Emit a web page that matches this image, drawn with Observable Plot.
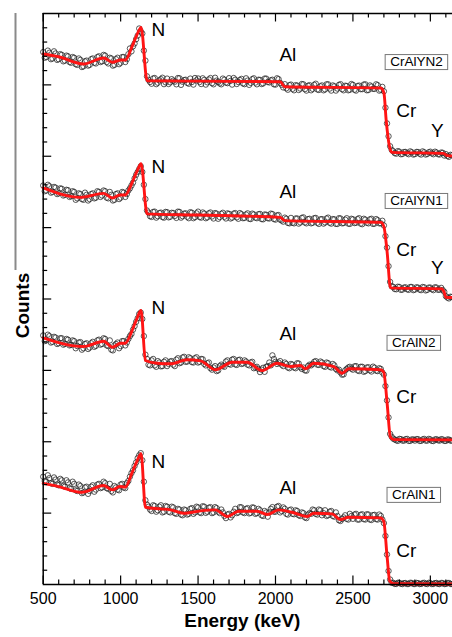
<!DOCTYPE html>
<html>
<head>
<meta charset="utf-8">
<script src="https://cdn.jsdelivr.net/npm/d3@7"></script>
<script src="https://cdn.jsdelivr.net/npm/@observablehq/plot@0.6"></script>
<style>
  html, body { margin: 0; padding: 0; background: #fff; }
  #chart { width: 452px; height: 637px; }
</style>
</head>
<body>
<div id="chart"></div>
<script>
// ---- channel energies (keV), two interleaved channel sets ----
const energiesA = [
  500,520,540,560,580,600,620,640,660,680,
  700,720,740,760,780,800,820,840,860,880,
  900,920,940,960,980,1000,1020,1040,1060,1080,
  1100,1120,1140,1160,1180,1200,1220,1240,1260,1280,
  1300,1320,1340,1360,1380,1400,1420,1440,1460,1480,
  1500,1520,1540,1560,1580,1600,1620,1640,1660,1680,
  1700,1720,1740,1760,1780,1800,1820,1840,1860,1880,
  1900,1920,1940,1960,1980,2000,2020,2040,2060,2080,
  2100,2120,2140,2160,2180,2200,2220,2240,2260,2280,
  2300,2320,2340,2360,2380,2400,2420,2440,2460,2480,
  2500,2520,2540,2560,2580,2600,2620,2640,2660,2680,
  2700,2720,2740,2760,2780,2800,2820,2840,2860,2880,
  2900,2920,2940,2960,2980,3000,3020,3040,3060,3080,
  3100,3120,3140
];
const energiesB = [
  510,530,550,570,590,610,630,650,670,690,
  710,730,750,770,790,810,830,850,870,890,
  910,930,950,970,990,1010,1030,1050,1070,1090,
  1110,1130,1150,1170,1190,1210,1230,1250,1270,1290,
  1310,1330,1350,1370,1390,1410,1430,1450,1470,1490,
  1510,1530,1550,1570,1590,1610,1630,1650,1670,1690,
  1710,1730,1750,1770,1790,1810,1830,1850,1870,1890,
  1910,1930,1950,1970,1990,2010,2030,2050,2070,2090,
  2110,2130,2150,2170,2190,2210,2230,2250,2270,2290,
  2310,2330,2350,2370,2390,2410,2430,2450,2470,2490,
  2510,2530,2550,2570,2590,2610,2630,2650,2670,2690,
  2710,2730,2750,2770,2790,2810,2830,2850,2870,2890,
  2910,2930,2950,2970,2990,3010,3030,3050,3070,3090,
  3110,3130
];

// ---- measured counts (offset, arbitrary units) ----
const dataCrAlYN2_A = [
  37.30,36.95,37.25,36.85,37.20,36.80,37.10,36.70,37.00,36.55,
  36.90,36.40,36.75,36.30,36.70,36.40,36.85,36.50,37.00,36.65,
  37.05,36.50,36.85,36.40,36.90,36.55,36.95,36.80,37.55,37.70,
  38.20,38.95,38.60,36.70,35.35,35.08,35.48,35.15,35.40,35.05,
  35.44,35.18,35.30,35.04,35.46,35.22,35.36,35.08,35.20,35.48,
  35.45,35.06,35.35,35.18,35.48,35.04,35.30,35.10,35.44,35.16,
  35.47,35.02,35.36,35.20,35.42,35.05,35.30,35.14,35.46,35.04,
  35.35,35.10,35.44,35.17,35.36,35.02,35.40,35.00,35.05,34.66,
  35.02,34.62,34.95,34.74,35.04,34.60,34.98,34.72,35.08,34.64,
  34.96,34.68,35.04,34.60,34.90,34.74,35.05,34.62,34.92,34.66,
  35.00,34.60,34.95,34.70,35.04,34.64,34.88,34.72,34.98,34.66,
  34.55,32.30,30.70,30.35,30.18,30.32,30.16,30.30,30.14,30.28,
  30.15,30.30,30.12,30.28,30.16,30.32,30.14,30.26,30.12,30.24,
  30.15,29.96,30.06
];
const dataCrAlYN2_B = [
  36.90,37.40,36.80,37.35,36.75,37.15,36.65,37.05,36.60,36.95,
  36.45,36.85,36.25,36.65,36.35,36.80,36.55,36.95,36.60,37.10,
  36.60,36.90,36.35,36.80,36.45,36.95,36.60,37.15,37.35,37.90,
  38.45,38.75,37.40,35.60,35.20,35.45,35.05,35.32,35.50,35.18,
  35.06,35.40,35.22,35.48,35.00,35.34,35.14,35.44,35.02,35.32,
  35.20,35.46,35.02,35.38,35.12,35.50,35.20,35.04,35.36,35.12,
  35.28,35.48,35.06,35.34,35.10,35.46,35.00,35.40,35.16,35.36,
  35.06,35.44,35.20,35.32,35.04,35.46,35.14,34.82,34.76,34.98,
  34.72,34.98,34.64,35.06,34.70,34.94,34.62,35.00,34.68,34.90,
  34.62,35.04,34.74,34.96,34.60,35.00,34.70,34.94,34.62,35.06,
  34.66,34.92,34.70,35.02,34.62,34.96,34.72,35.04,34.60,34.86,
  33.40,31.40,30.45,30.22,30.36,30.14,30.30,30.20,30.34,30.12,
  30.30,30.18,30.34,30.12,30.28,30.20,30.32,30.14,30.26,30.05,
  30.02,30.10
];
const dataCrAlYN1_A = [
  27.95,27.60,27.90,27.50,27.80,27.40,27.72,27.30,27.62,27.20,
  27.50,27.05,27.35,26.95,27.30,27.00,27.40,27.10,27.50,27.25,
  27.55,27.05,27.30,26.95,27.40,27.10,27.45,27.35,27.75,28.15,
  28.70,29.10,28.90,27.00,26.05,25.75,26.12,25.80,26.05,25.70,
  26.08,25.76,26.02,25.68,26.10,25.80,26.00,25.66,26.04,25.74,
  26.12,25.70,25.98,25.72,26.06,25.64,25.98,25.74,26.04,25.64,
  25.96,25.70,26.02,25.62,25.94,25.68,26.00,25.60,25.92,25.66,
  25.96,25.58,25.90,25.64,25.95,25.56,25.88,25.50,25.70,25.33,
  25.68,25.30,25.64,25.36,25.72,25.30,25.62,25.34,25.68,25.26,
  25.60,25.36,25.70,25.28,25.58,25.26,25.64,25.32,25.66,25.26,
  25.58,25.34,25.66,25.24,25.56,25.30,25.62,25.28,25.52,25.30,
  25.15,23.60,21.20,20.85,20.68,20.84,20.66,20.82,20.64,20.84,
  20.66,20.80,20.62,20.82,20.64,20.80,20.62,20.80,20.66,20.62,
  20.20,20.04,20.14
];
const dataCrAlYN1_B = [
  27.55,28.00,27.45,27.85,27.35,27.75,27.25,27.65,27.15,27.55,
  26.95,27.40,27.00,27.45,26.90,27.35,27.05,27.55,27.15,27.60,
  27.10,27.50,26.90,27.35,27.00,27.50,27.15,27.60,27.95,28.45,
  28.90,29.30,28.00,26.20,25.80,26.10,25.70,26.02,25.74,26.10,
  25.72,26.04,25.82,26.12,25.70,25.98,25.76,26.08,25.66,26.00,
  25.74,26.06,25.66,26.00,25.78,26.02,25.62,25.96,25.76,26.00,
  25.64,25.98,25.72,26.02,25.66,25.92,25.62,25.98,25.70,25.94,
  25.60,25.92,25.66,25.98,25.60,25.86,25.56,25.42,25.62,25.30,
  25.34,25.64,25.28,25.68,25.36,25.60,25.30,25.66,25.34,25.58,
  25.28,25.64,25.34,25.60,25.26,25.66,25.30,25.56,25.28,25.62,
  25.32,25.60,25.28,25.62,25.34,25.58,25.26,25.60,25.30,25.48,
  24.40,22.30,20.90,20.70,20.86,20.64,20.80,20.68,20.84,20.62,
  20.82,20.66,20.84,20.60,20.80,20.68,20.82,20.64,20.78,20.50,
  20.10,20.16
];
const dataCrAlN2_A = [
  17.45,17.10,17.40,17.00,17.30,16.90,17.25,16.85,17.15,16.78,
  17.05,16.70,16.98,16.55,16.90,16.60,17.00,16.72,17.15,16.85,
  17.20,16.70,16.45,16.75,16.95,16.70,17.05,16.95,17.40,17.85,
  18.40,18.95,18.60,16.10,15.40,15.70,15.35,15.65,15.28,15.60,
  15.30,15.62,15.40,15.75,15.50,15.90,15.60,15.92,15.58,15.85,
  15.55,15.80,15.45,15.50,15.15,15.20,14.95,15.30,15.30,15.62,
  15.45,15.75,15.42,15.72,15.45,15.70,15.40,15.55,15.15,15.25,
  14.88,15.18,15.25,15.55,16.05,15.60,15.55,15.40,15.55,15.20,
  15.45,15.20,15.50,15.22,15.20,14.98,15.40,15.45,15.65,15.38,
  15.55,15.25,15.50,15.20,15.35,15.00,14.85,14.72,15.10,15.25,
  15.05,15.30,14.95,15.25,14.95,15.22,14.92,15.18,14.95,15.10,
  14.70,12.90,10.55,10.22,10.10,10.20,10.08,10.18,10.06,10.16,
  10.08,10.18,10.06,10.20,10.08,10.16,10.05,10.18,10.08,10.16,
  10.06,10.15,10.08
];
const dataCrAlN2_B = [
  17.05,17.50,16.95,17.35,16.85,17.25,16.80,17.20,16.75,17.10,
  16.55,16.95,16.45,16.85,16.50,16.90,16.65,17.10,16.80,17.25,
  16.75,17.10,16.40,16.85,16.55,17.05,16.75,17.20,17.55,18.10,
  18.65,19.05,17.40,15.80,15.35,15.80,15.25,15.55,15.30,15.70,
  15.45,15.65,15.30,15.85,15.55,15.95,15.62,15.85,15.55,15.92,
  15.60,15.78,15.35,15.55,15.05,15.30,15.00,15.40,15.25,15.70,
  15.40,15.80,15.38,15.75,15.48,15.62,15.35,15.60,15.20,15.10,
  15.05,14.90,15.30,15.35,15.80,15.45,15.65,15.30,15.45,15.15,
  15.40,15.15,15.48,15.10,15.00,15.30,15.35,15.60,15.40,15.62,
  15.30,15.55,15.25,15.45,15.10,15.05,14.70,15.00,15.20,15.12,
  15.28,15.00,15.25,14.90,15.20,15.00,15.26,14.98,15.15,14.85,
  13.90,11.70,10.35,10.16,10.06,10.18,10.08,10.20,10.06,10.16,
  10.18,10.06,10.16,10.08,10.20,10.06,10.16,10.10,10.18,10.06,
  10.16,10.08
];
const dataCrAlN1_A = [
  7.55,7.20,7.45,7.05,7.35,6.95,7.30,6.85,7.15,6.70,
  7.05,6.55,6.90,6.45,6.85,6.55,6.95,6.65,7.05,6.80,
  7.10,6.70,6.55,6.90,6.65,7.00,6.80,7.10,7.55,8.00,
  8.55,9.05,8.70,5.90,5.45,5.15,5.50,5.20,5.55,5.10,
  5.45,5.05,5.40,4.95,5.25,4.85,5.20,4.95,5.35,5.05,
  5.40,5.00,5.45,5.10,5.42,5.05,5.35,5.00,5.05,4.65,
  4.95,4.85,5.30,5.05,5.40,5.00,5.35,5.02,5.38,5.00,
  5.20,4.80,5.05,5.05,5.42,5.10,5.50,5.15,5.30,4.90,
  5.25,4.92,5.15,4.80,5.00,4.65,5.00,5.25,4.95,5.25,
  4.85,5.20,4.85,5.15,4.75,4.80,4.45,4.70,4.60,4.95,
  4.60,4.95,4.55,4.92,4.55,4.90,4.52,4.88,4.55,4.80,
  4.30,2.10,0.35,0.12,0.04,0.12,0.03,0.10,0.04,0.11,
  0.03,0.10,0.04,0.12,0.03,0.10,0.04,0.11,0.03,0.10,
  0.04,0.11,0.03
];
const dataCrAlN1_B = [
  7.25,7.65,7.10,7.50,7.00,7.40,6.90,7.30,6.75,7.20,
  6.60,7.00,6.40,6.80,6.35,6.85,6.50,7.00,6.75,7.20,
  6.75,7.05,6.45,6.80,6.60,7.05,6.75,7.25,7.80,8.30,
  8.85,9.20,7.20,5.60,5.25,5.55,5.10,5.45,5.05,5.50,
  5.10,5.45,5.00,5.30,4.90,5.25,4.90,5.30,4.95,5.45,
  5.05,5.48,5.02,5.38,5.00,5.42,5.10,5.25,4.80,4.90,
  4.70,5.10,5.00,5.42,5.05,5.30,4.98,5.40,4.95,5.30,
  4.85,5.15,4.75,5.30,5.10,5.45,5.05,5.40,4.95,5.20,
  4.95,5.20,4.85,5.05,4.70,4.90,4.95,5.20,4.90,5.20,
  5.00,4.80,5.10,4.80,5.05,4.50,4.60,4.85,4.55,4.80,
  4.90,4.55,4.88,4.58,4.92,4.55,4.86,4.58,4.90,4.55,
  3.40,0.95,0.12,0.04,0.12,0.05,0.10,0.03,0.12,0.04,
  0.11,0.03,0.10,0.05,0.12,0.03,0.10,0.04,0.11,0.03,
  0.10,0.04
];

// ---- simulated (fit) curves: knot energies and counts ----
const fitE_CrAlYN2 = [500,600,760,890,947,1000,1030,1074,1106,1132,1171,1500,2030,2060,2680,2700,2715,2735,2752,3085,3110,3150];
const fitC_CrAlYN2 = [37.16,36.97,36.46,36.88,36.58,36.74,36.74,37.70,38.52,39.03,35.29,35.26,35.22,34.87,34.78,34.45,32.49,30.74,30.27,30.20,30.04,30.01];
const fitE_CrAlYN1 = [500,740,890,947,995,1030,1074,1106,1132,1171,1500,2030,2060,2680,2700,2720,2743,3075,3090,3100,3150];
const fitC_CrAlYN1 = [27.78,27.12,27.40,27.08,27.29,27.29,28.15,28.95,29.48,25.96,25.88,25.72,25.49,25.37,25.07,23.39,20.78,20.71,20.45,20.12,20.10];
const fitE_CrAlN2 = [500,760,890,947,1000,1030,1074,1106,1132,1160,1235,1322,1430,1516,1612,1720,1817,1913,2010,2097,2161,2193,2247,2376,2430,2473,2678,2699,2721,2742,2763,3150];
const fitC_CrAlN2 = [17.28,16.67,17.04,16.62,16.90,16.90,17.79,18.65,19.19,15.69,15.50,15.46,15.74,15.67,15.04,15.57,15.57,14.99,15.50,15.27,15.34,15.11,15.50,15.27,14.80,15.11,15.04,14.87,12.68,10.32,10.15,10.13];
const fitE_CrAlN1 = [500,600,751,890,947,995,1030,1074,1106,1132,1160,1257,1322,1407,1516,1612,1688,1763,1882,1946,2021,2107,2204,2247,2366,2419,2473,2678,2699,2721,2738,2763,3150];
const fitC_CrAlN1 = [7.09,6.86,6.46,6.93,6.63,6.86,6.83,7.84,8.65,9.17,5.41,5.30,5.23,4.99,5.16,5.23,4.76,5.13,5.13,4.90,5.23,5.06,4.76,4.99,4.95,4.55,4.71,4.67,4.43,1.91,0.23,0.05,0.04];

// ---- annotations ----
const elemText = ["N","Al","Cr","Y", "N","Al","Cr","Y", "N","Al","Cr", "N","Al","Cr"];
const elemE    = [1244,2080,2845,3045, 1244,2080,2845,3045, 1244,2080,2845, 1244,2080,2845];
const elemC    = [38.87,37.11,33.19,31.79, 29.27,27.47,23.46,22.20, 19.40,17.53,13.12, 8.61,6.79,2.38];
const sampleNames = ["CrAlYN2","CrAlYN1","CrAlN2","CrAlN1"];
const sampleE     = [2910,2910,2893,2893];
const sampleC     = [36.62,26.89,16.95,6.30];

// ---- axis ticks ----
const xMajor = [500,1000,1500,2000,2500,3000];
const xMinor = [600,700,800,900,1100,1200,1300,1400,1600,1700,1800,1900,2100,2200,2300,2400,2600,2700,2800,2900,3100];
const yMajor = [5,10,15,20,25,30,35];
const yMinor = d3.range(1, 40).filter(d => d % 5 !== 0);

// ---- build tables ----
const dataSets = [
  [dataCrAlYN2_A, dataCrAlYN2_B],
  [dataCrAlYN1_A, dataCrAlYN1_B],
  [dataCrAlN2_A, dataCrAlN2_B],
  [dataCrAlN1_A, dataCrAlN1_B]
];
const points = dataSets.flatMap(([A, B], s) => [
  ...energiesA.map((e, i) => ({s: sampleNames[s], e, c: A[i]})),
  ...energiesB.map((e, i) => ({s: sampleNames[s], e, c: B[i]}))
]);
const fits = [[fitE_CrAlYN2, fitC_CrAlYN2],[fitE_CrAlYN1, fitC_CrAlYN1],[fitE_CrAlN2, fitC_CrAlN2],[fitE_CrAlN1, fitC_CrAlN1]]
  .flatMap(([E, C], s) => E.map((e, i) => ({s: sampleNames[s], e, c: C[i]})));
const elems = elemText.map((t, i) => ({t, e: elemE[i], c: elemC[i]}));
const samples = sampleNames.map((t, i) => ({t, e: sampleE[i], c: sampleC[i]}));

const FONT = "'Liberation Sans', Arial, Helvetica, sans-serif";
const minorY = 0.315, majorY = 0.595, minorX = 29, majorX = 55;

const svg = Plot.plot({
  width: 452,
  height: 637,
  marginLeft: 42.7,
  marginRight: 0,
  marginTop: 13,
  marginBottom: 53,
  style: {fontFamily: FONT, background: "white", color: "black"},
  x: {domain: [500, 3143]},
  y: {domain: [0, 40], axis: null},
  marks: [
    // data
    Plot.dot(points, {x: "e", y: "c", r: 2.7, stroke: "#222", strokeWidth: 0.75, fill: "none"}),
    Plot.line(fits, {x: "e", y: "c", z: "s", stroke: "#ff1414", strokeWidth: 2.9, curve: "monotone-x"}),
    // frame
    Plot.ruleX([500], {stroke: "black", strokeWidth: 1.5}),
    Plot.ruleY([0], {stroke: "black", strokeWidth: 1.5}),
    Plot.ruleY([40], {stroke: "black", strokeWidth: 1.5}),
    // ticks (inward)
    Plot.ruleX(xMinor, {x: d => d, y1: 0, y2: minorY, strokeWidth: 1.2}),
    Plot.ruleX(xMajor, {x: d => d, y1: 0, y2: majorY, strokeWidth: 1.2}),
    Plot.ruleX(xMinor, {x: d => d, y1: 40, y2: 40 - minorY, strokeWidth: 1.2}),
    Plot.ruleX(xMajor, {x: d => d, y1: 40, y2: 40 - majorY, strokeWidth: 1.2}),
    Plot.ruleY(yMinor, {y: d => d, x1: 500, x2: 500 + minorX, strokeWidth: 1.2}),
    Plot.ruleY(yMajor, {y: d => d, x1: 500, x2: 500 + majorX, strokeWidth: 1.2}),
    Plot.axisX(xMajor, {anchor: "bottom", tickSize: 0, tickPadding: 8, fontSize: 16, label: null, tickFormat: d => String(d)}),
    // axis titles
    Plot.text(["Energy (keV)"], {frameAnchor: "bottom", text: d => d, textAnchor: "middle", lineAnchor: "middle", dy: 36, dx: -5.5, fontWeight: "bold", fontSize: 19, fill: "black"}),
    Plot.text(["Counts"], {frameAnchor: "left", text: d => d, textAnchor: "middle", lineAnchor: "middle", rotate: -90, dx: -20.7, dy: 6.5, fontWeight: "bold", fontSize: 19, fill: "black"}),
    Plot.ruleX([500], {y1: 22.0, y2: 40, dx: -27.7, stroke: "#8a8a8a", strokeWidth: 2}),
    // annotations
    Plot.text(elems, {x: "e", y: "c", text: "t", fontSize: 19, fill: "black"}),
    Plot.text(samples, {x: "e", y: "c", text: "t", fontSize: 13.5, fill: "black", className: "boxlab"})
  ]
});

document.getElementById("chart").appendChild(svg);

// draw boxes behind sample labels
svg.querySelectorAll(".boxlab text").forEach(t => {
  const b = t.getBBox();
  const r = document.createElementNS("http://www.w3.org/2000/svg", "rect");
  r.setAttribute("x", b.x - 5);
  r.setAttribute("y", b.y + 0.5);
  r.setAttribute("width", b.width + 10);
  r.setAttribute("height", b.height);
  r.setAttribute("fill", "white");
  r.setAttribute("stroke", "#777");
  r.setAttribute("stroke-width", "1");
  if (t.getAttribute("transform")) r.setAttribute("transform", t.getAttribute("transform"));
  t.parentNode.insertBefore(r, t);
});
</script>
</body>
</html>
